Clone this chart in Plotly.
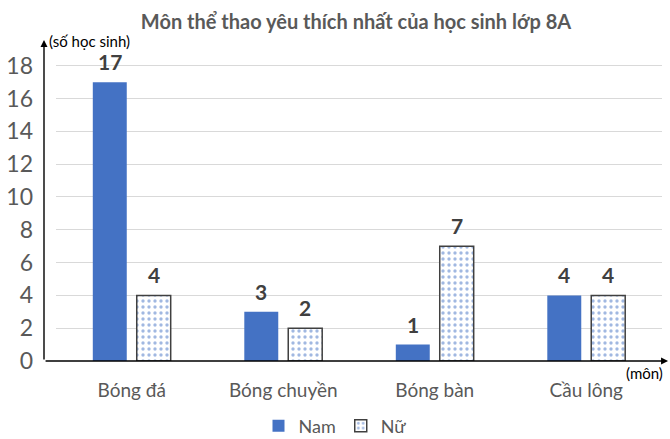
import plotly.graph_objects as go

# ---------------------------------------------------
# DATA
# ---------------------------------------------------

categories = ['Bóng đá', 'Bóng chuyền', 'Bóng bàn', 'Cầu lông']
nam = [17, 3, 1, 4]
nu = [4, 2, 7, 4]

title_text = 'Môn thể thao yêu thích nhất của học sinh lớp 8A'
y_label = '(số học sinh)'
x_label = '(môn)'

FONT = 'Lato, "Noto Sans", sans-serif'
BLUE = '#4472C4'
GREY = '#595959'
DARK = '#404040'

Y_TOP = 19.57

fig = go.Figure()

# ---------------------------------------------------
# BARS
# ---------------------------------------------------

fig.add_trace(go.Bar(
    x=categories, y=nam, name='Nam',
    marker=dict(color=BLUE, line=dict(width=0)),
))

fig.add_trace(go.Bar(
    x=categories, y=nu, name='Nữ',
    marker=dict(
        color='white',
        line=dict(color=DARK, width=1.5),
        pattern=dict(shape='.', fgcolor=BLUE, bgcolor='white',
                     size=6, solidity=0.25),
    ),
))

# ---------------------------------------------------
# VALUE LABELS
# ---------------------------------------------------

annotations = []
for cat, a, b in zip(categories, nam, nu):
    for val, shift in ((a, -22), (b, 22)):
        annotations.append(dict(
            x=cat, y=val, xref='x', yref='y', text=str(val),
            showarrow=False, xshift=shift, yanchor='bottom', yshift=6,
            font=dict(family=FONT, size=21, color=DARK, weight='bold'),
        ))

# axis titles
annotations.append(dict(
    x=-8 / 606, y=1.0, xref='paper', yref='paper', text=y_label,
    showarrow=False, xanchor='left', yanchor='middle', yshift=-1,
    borderpad=0,
    font=dict(family=FONT, size=15, color='black'),
))
annotations.append(dict(
    x=1.0, y=0, xref='paper', yref='paper', text=x_label,
    showarrow=False, xanchor='right', yanchor='middle', yshift=-12, xshift=3,
    font=dict(family=FONT, size=15, color='black'),
))

# axis arrows
annotations.append(dict(
    x=-12 / 606, y=1.0, xref='paper', yref='paper', text='',
    showarrow=True, ax=0, ay=321, axref='pixel', ayref='pixel',
    arrowhead=2, arrowsize=1, arrowwidth=1.4, arrowcolor='black', standoff=0,
))
annotations.append(dict(
    x=1.01, y=0, xref='paper', yref='paper', text='',
    showarrow=True, ax=-624, ay=0, axref='pixel', ayref='pixel',
    arrowhead=2, arrowsize=1, arrowwidth=1.4, arrowcolor='black', standoff=0,
))

# ---------------------------------------------------
# LAYOUT
# ---------------------------------------------------

fig.update_layout(
    width=670, height=439,
    margin=dict(l=56, r=8, t=40, b=78, autoexpand=False),
    paper_bgcolor='white', plot_bgcolor='white',
    barmode='group', bargap=0.42, bargroupgap=0.227,
    font=dict(family=FONT, size=17, color=GREY),
    title=dict(
        text=title_text, x=356 / 670, xref='container', xanchor='center',
        y=1 - 22 / 439, yref='container', yanchor='middle', automargin=False,
        font=dict(family=FONT, size=20, color=GREY, weight='bold'),
    ),
    legend=dict(
        orientation='h', xref='container', yref='container',
        x=0.5, xanchor='center', y=13 / 439, yanchor='middle',
        font=dict(family=FONT, size=18, color=GREY),
        traceorder='normal', itemwidth=30,
    ),
    annotations=annotations,
    showlegend=True,
)

fig.update_xaxes(
    range=[-0.5, 3.5], showgrid=False, showline=False, zeroline=False,
    ticks='', ticklabelstandoff=16, automargin=False,
    tickfont=dict(family=FONT, size=19, color=GREY),
)

fig.update_yaxes(
    range=[0, Y_TOP], dtick=2, tick0=0, showgrid=True, gridcolor='#D9D9D9',
    gridwidth=1, zeroline=False, showline=False, ticks='',
    ticklabelstandoff=22, automargin=False,
    tickfont=dict(family=FONT, size=23, color=GREY),
)

fig.write_html(
    'out.html',
    config={'displayModeBar': False},
    post_script="document.body.style.margin='0';",
)
